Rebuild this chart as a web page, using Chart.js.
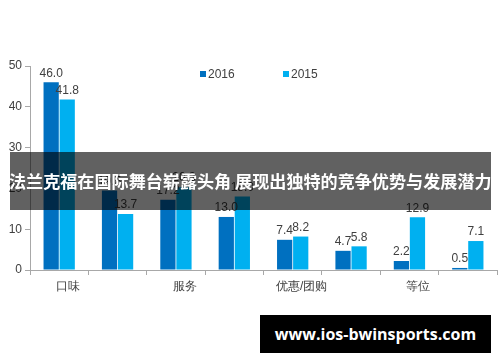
<!DOCTYPE html>
<html>
<head>
<meta charset="utf-8">
<script src="https://cdn.jsdelivr.net/npm/chart.js@4/dist/chart.umd.min.js"></script>
<style>
  body { margin: 0; background: #fff; }
  #wrap { position: relative; width: 500px; height: 362px; overflow: hidden; }
  #legend { position: absolute; top: 66px; left: 0; width: 500px; height: 16px;
    font: 12px "Liberation Sans", Arial, sans-serif; color: #404040; }
  .item { position: absolute; top: 0; line-height: 16px; }
  .box { display: inline-block; width: 6px; height: 6px; margin-right: 2px; vertical-align: 1px; }
  #banner { position: absolute; left: 10px; top: 152px; width: 481px; height: 58px;
    background: rgba(0,0,0,0.62); color: #fff; font: bold 17.1px "Noto Sans CJK SC", sans-serif;
    line-height: 58px; white-space: nowrap; text-indent: -1px; }
  #mark { position: absolute; left: 260px; top: 315px; width: 231px; height: 38px;
    background: #000; color: #fff; font: bold 16px "Open Sans", sans-serif;
    line-height: 38px; text-align: center; white-space: nowrap; }
</style>
</head>
<body>
<div id="wrap">
  <canvas id="myChart" width="500" height="362"></canvas>
  <div id="legend"></div>
  <div id="banner">法兰克福在国际舞台崭露头角 展现出独特的竞争优势与发展潜力</div>
  <div id="mark">www.ios-bwinsports.com</div>
</div>
<script>
// categories (only every other one is labelled in the picture)
const categories = ['口味', '', '服务', '', '优惠/团购', '', '等位', ''];
const values2016 = [46.0, 19.5, 17.2, 13.0, 7.4, 4.7, 2.2, 0.5];
const values2015 = [41.8, 13.7, 20.3, 18.0, 8.2, 5.8, 12.9, 7.1];
const yTicks = [0, 10, 20, 30, 40, 50];

const COLORS = {
  y2016: '#0070c0',
  y2015: '#00b0f0',
};

// legend in html
const legendItems = [
  { text: '2016', color: COLORS.y2016, left: 200 },
  { text: '2015', color: COLORS.y2015, left: 283 },
];
let legend = document.getElementById('legend');
legendItems.forEach(function (it) {
  let d = document.createElement('span');
  d.className = 'item';
  d.style.left = it.left + 'px';
  d.innerHTML = '<span class="box" style="background:' + it.color + '"></span>' + it.text;
  legend.appendChild(d);
});

// value labels above every bar
const barLabels = {
  id: 'barLabels',
  afterDatasetsDraw(chart) {
    const ctx = chart.ctx;
    ctx.save();
    ctx.font = '12px "Liberation Sans", Arial, sans-serif';
    ctx.fillStyle = '#404040';
    ctx.textAlign = 'center';
    ctx.textBaseline = 'bottom';
    chart.data.datasets.forEach(function (ds, i) {
      chart.getDatasetMeta(i).data.forEach(function (bar, j) {
        ctx.fillText(ds.data[j].toFixed(1), bar.x, bar.y - 3);
      });
    });
    ctx.restore();
  }
};

const data = {
  labels: categories,
  datasets: [
    { label: '2016', data: values2016, backgroundColor: COLORS.y2016,
      barPercentage: 0.95, categoryPercentage: 0.55 },
    { label: '2015', data: values2015, backgroundColor: COLORS.y2015,
      barPercentage: 0.95, categoryPercentage: 0.55 },
  ]
};

const config = {
  type: 'bar',
  data: data,
  options: {
    responsive: false,
    animation: false,
    layout: { padding: { top: 66, right: 3, left: 0, bottom: 0 } },
    plugins: {
      legend: { display: false },
      tooltip: { enabled: false },
    },
    scales: {
      x: {
        offset: true,
        grid: { offset: true, drawOnChartArea: false, tickLength: 5, color: '#a8a8a8' },
        border: { color: '#a8a8a8' },
        ticks: {
          autoSkip: false, maxRotation: 0, labelOffset: 9, padding: 4,
          color: '#404040', font: { size: 12, family: '"Liberation Sans", Arial, sans-serif' }
        },
        afterFit(scale) { scale.height = 92; }
      },
      y: {
        min: 0,
        max: 50,
        afterBuildTicks(scale) { scale.ticks = yTicks.map(v => ({ value: v })); },
        grid: { drawOnChartArea: false, tickLength: 5, color: '#a8a8a8' },
        border: { color: '#a8a8a8' },
        ticks: {
          padding: 3,
          color: '#404040', font: { size: 12, family: '"Liberation Sans", Arial, sans-serif' }
        },
        afterFit(scale) { scale.width = 30; }
      }
    }
  },
  plugins: [barLabels]
};

const myChart = new Chart(document.getElementById('myChart'), config);
</script>
</body>
</html>
